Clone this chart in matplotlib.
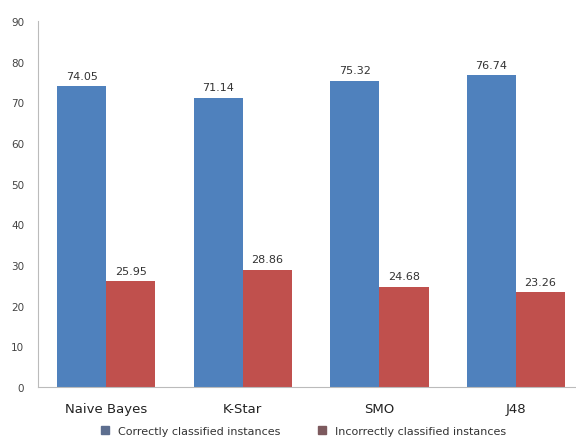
import matplotlib
matplotlib.use("Agg")
import matplotlib.pyplot as plt
from matplotlib.lines import Line2D
import numpy as np

classifiers = ["Naive Bayes", "K-Star", "SMO", "J48"]
correct = [74.05, 71.14, 75.32, 76.74]
incorrect = [25.95, 28.86, 24.68, 23.26]
yticks = [0, 10, 20, 30, 40, 50, 60, 70, 80, 90]

BLUE = "#4f81bd"
RED = "#c0504d"

fig = plt.figure(figsize=(5.76, 4.39), dpi=100)
ax = fig.add_axes([38 / 576, 1 - 388 / 439, 1 - 38 / 576, (388 - 22) / 439])

x = np.arange(len(classifiers))
w = 0.36
b1 = ax.bar(x - w / 2, correct, w, color=BLUE)
b2 = ax.bar(x + w / 2, incorrect, w, color=RED)

for bars, vals in ((b1, correct), (b2, incorrect)):
    for b, v in zip(bars, vals):
        ax.text(b.get_x() + b.get_width() / 2, v + 1.3, f"{v:.2f}",
                ha="center", va="bottom", fontsize=8, color="#333333")

ax.set_xlim(-0.5, 3.44)
ax.set_ylim(0, 90)
ax.set_yticks(yticks)
ax.set_yticklabels([str(t) for t in yticks], fontsize=7.5, color="#444444")
ax.set_xticks(x)
ax.set_xticklabels(classifiers, fontsize=9.5, color="#222222")
ax.tick_params(axis="both", length=0)
ax.tick_params(axis="y", pad=10)
ax.tick_params(axis="x", pad=11)

for s in ("top", "right"):
    ax.spines[s].set_visible(False)
for s in ("left", "bottom"):
    ax.spines[s].set_color("#bbbbbb")
    ax.spines[s].set_linewidth(0.8)

handles = [Line2D([], [], marker="s", linestyle="", markersize=6, color="#5d6e8f"),
           Line2D([], [], marker="s", linestyle="", markersize=6, color="#7d5a5e")]
fig.legend(handles, ["Correctly classified instances", "Incorrectly classified instances"],
           loc="center", bbox_to_anchor=(300 / 576, 1 - 432 / 439), ncol=2,
           frameon=False, fontsize=8, handletextpad=0.1, columnspacing=2.8,
           labelcolor="#333333")

fig.savefig("out.png", dpi=100)
